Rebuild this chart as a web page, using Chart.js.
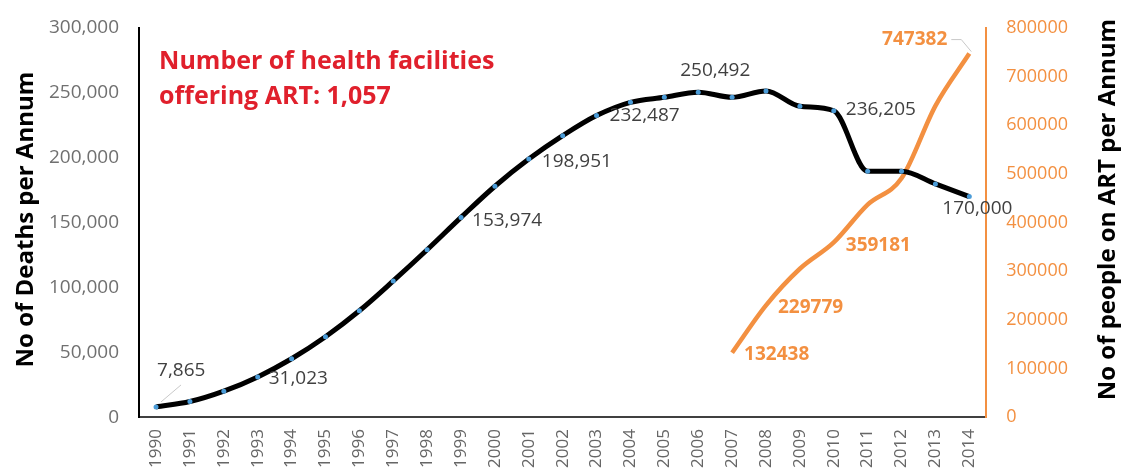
<!DOCTYPE html>
<html>
<head>
<meta charset="utf-8">
<script src="https://cdn.jsdelivr.net/npm/chart.js@4"></script>
<style>
  body { margin: 0; background: #fff; }
</style>
</head>
<body>
<canvas id="myChart" width="1121" height="473"></canvas>
<script>
var years = ["1990","1991","1992","1993","1994","1995","1996","1997","1998","1999","2000","2001","2002",
             "2003","2004","2005","2006","2007","2008","2009","2010","2011","2012","2013","2014"];
var deaths = [7865, 12000, 20000, 31023, 45000, 62000, 82000, 105000, 129000, 153974, 178000, 198951, 217000,
              232487, 242700, 246600, 250492, 246600, 251500, 239600, 236205, 189500, 189500, 179800, 170000];
var onArt = [null, null, null, null, null, null, null, null, null, null, null, null, null,
             null, null, null, null, 132438, 229779, 305000, 359181, 437000, 491000, 640000, 747382];
// labelled points: index -> [dx, dy] from the point (left edge / vertical centre of the text)
var deathLabels = {0: [1, -36], 3: [11, 2], 9: [11, 3], 11: [13, 3], 13: [13, 0], 16: [-18, -22], 20: [12, -1], 24: [-27, 12]};
var artLabels = {17: [12, 2], 18: [12, 2], 20: [12, 3], 24: [-22, -14]};
var noteLines = ["Number of health facilities", "offering ART: 1,057"];
var leftTitle = "No of Deaths per Annum";
var rightTitle = "No of people on ART per Annum";

var orange = "#f39041";
var font = "'Open Sans', sans-serif";

function fmt(v){ return v.toLocaleString("en-US"); }

var labelPlugin = {
    id: "labels",
    afterDatasetsDraw: function(chart){
        var ctx = chart.ctx;
        ctx.save();
        ctx.textBaseline = "middle";
        ctx.textAlign = "left";
        ctx.font = "19px " + font;
        ctx.fillStyle = "#404040";
        var m0 = chart.getDatasetMeta(0);
        for (var k in deathLabels){
            var p = m0.data[k];
            var off = deathLabels[k];
            if (k == 0){
                ctx.strokeStyle = "#c8c8c8"; ctx.lineWidth = 1;
                ctx.beginPath(); ctx.moveTo(p.x + 5, p.y - 5); ctx.lineTo(p.x + 25, p.y - 22); ctx.stroke();
            }
            ctx.fillText(fmt(deaths[k]), p.x + off[0], p.y + off[1]);
        }
        var m1 = chart.getDatasetMeta(1);
        ctx.font = "bold 19px " + font;
        ctx.fillStyle = orange;
        for (var j in artLabels){
            var q = m1.data[j];
            var o = artLabels[j];
            if (j == 24){
                ctx.strokeStyle = "#c8c8c8"; ctx.lineWidth = 1;
                ctx.beginPath(); ctx.moveTo(q.x + 2, q.y - 2); ctx.lineTo(q.x - 8, q.y - 14); ctx.lineTo(q.x - 18, q.y - 14); ctx.stroke();
                ctx.textAlign = "right";
            } else {
                ctx.textAlign = "left";
            }
            ctx.fillText(String(onArt[j]), q.x + o[0], q.y + o[1]);
        }
        // red note
        ctx.font = "bold 25px " + font;
        ctx.fillStyle = "#e0202c";
        ctx.textAlign = "left";
        ctx.fillText(noteLines[0], chart.chartArea.left + 20, 62);
        ctx.fillText(noteLines[1], chart.chartArea.left + 20, 97);
        // axis titles, both reading bottom to top
        ctx.font = "bold 24px " + font;
        ctx.fillStyle = "#000";
        ctx.textAlign = "center";
        var a = chart.chartArea;
        ctx.save();
        ctx.translate(26, (a.top + a.bottom) / 2 - 3);
        ctx.rotate(-Math.PI / 2);
        ctx.fillText(leftTitle, 0, 0);
        ctx.restore();
        ctx.save();
        ctx.translate(1108, (a.top + a.bottom) / 2 - 13);
        ctx.rotate(-Math.PI / 2);
        ctx.fillText(rightTitle, 0, 0);
        ctx.restore();
        ctx.restore();
    }
};

var ctx = document.getElementById("myChart").getContext("2d");
var artChart = new Chart(ctx, {
    type: "line",
    data: {
        labels: years,
        datasets: [{
            label: "Deaths",
            data: deaths,
            borderColor: "#000",
            borderWidth: 5,
            cubicInterpolationMode: "monotone",
            pointRadius: 2.5,
            pointBackgroundColor: "#4b9cd8",
            pointBorderColor: "#4b9cd8",
            pointBorderWidth: 0,
            yAxisID: "y",
            order: 1
        }, {
            label: "On ART",
            data: onArt,
            borderColor: orange,
            borderWidth: 4.5,
            cubicInterpolationMode: "monotone",
            pointRadius: 0,
            yAxisID: "y1",
            order: 2
        }]
    },
    options: {
        responsive: false,
        animation: false,
        devicePixelRatio: 1,
        layout: { padding: { top: 28, bottom: -7, left: 35, right: 39 } },
        plugins: { legend: { display: false }, tooltip: { enabled: false } },
        scales: {
            x: {
                offset: true,
                grid: { display: false, drawTicks: false },
                border: { color: "#404040", width: 2 },
                ticks: { minRotation: 90, maxRotation: 90, color: "#666", font: { family: font, size: 17 }, padding: 12 }
            },
            y: {
                position: "left",
                min: 0, max: 300000,
                grid: { display: false, drawTicks: true, tickLength: 6, tickColor: "#333" },
                border: { color: "#000", width: 2 },
                ticks: { stepSize: 50000, color: "#707070", font: { family: font, size: 19 }, padding: 14,
                         callback: function(v){ return fmt(v); } }
            },
            y1: {
                position: "right",
                min: 0, max: 800000,
                grid: { display: false, drawTicks: true, tickLength: 6, tickColor: orange },
                border: { color: orange, width: 2 },
                ticks: { stepSize: 100000, color: orange, font: { family: font, size: 18 }, padding: 14,
                         callback: function(v){ return String(v); } }
            }
        }
    },
    plugins: [labelPlugin]
});
</script>
</body>
</html>
